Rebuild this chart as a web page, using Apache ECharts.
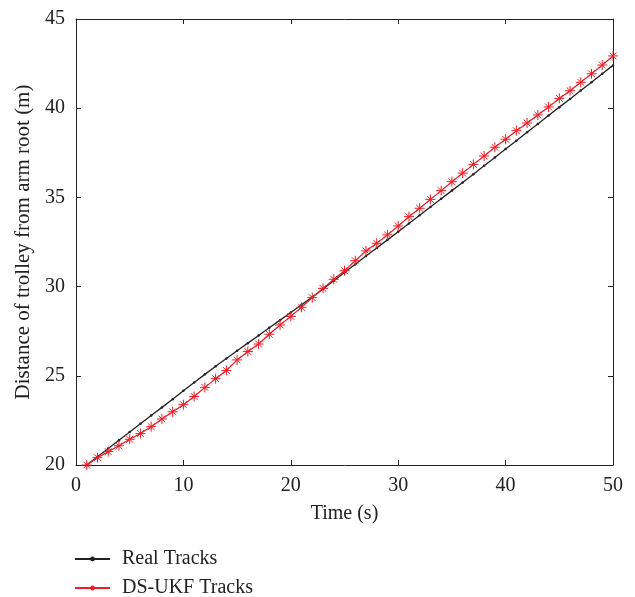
<!DOCTYPE html>
<html>
<head>
<meta charset="utf-8">
<script src="https://cdn.jsdelivr.net/npm/echarts@6/dist/echarts.min.js"></script>
<style>
  html, body { margin: 0; padding: 0; background: #fff; }
  #chart { width: 635px; height: 597px; }
</style>
</head>
<body>
<div id="chart"></div>
<script>
// Time steps (s)
const timeSteps = [1,2,3,4,5,6,7,8,9,10,11,12,13,14,15,16,17,18,19,20,21,22,23,24,25,
  26,27,28,29,30,31,32,33,34,35,36,37,38,39,40,41,42,43,44,45,46,47,48,49,50];

// Real trolley positions (m)
const realTracks = [20.00,20.46,20.92,21.39,21.85,22.31,22.77,23.23,23.69,24.16,
  24.62,25.08,25.54,25.97,26.40,26.83,27.26,27.69,28.12,28.55,
  28.98,29.41,29.87,30.33,30.79,31.25,31.71,32.16,32.62,33.08,
  33.54,34.00,34.46,34.92,35.38,35.84,36.30,36.77,37.24,37.71,
  38.18,38.65,39.12,39.59,40.06,40.52,40.99,41.46,41.93,42.40];

// DS-UKF estimated positions (m)
const ukfTracks = [20.00,20.41,20.75,21.08,21.44,21.76,22.15,22.58,22.98,23.38,
  23.84,24.35,24.84,25.30,25.89,26.36,26.78,27.33,27.85,28.33,
  28.84,29.38,29.90,30.41,30.89,31.45,32.00,32.43,32.90,33.40,
  33.92,34.39,34.89,35.38,35.88,36.36,36.85,37.32,37.81,38.26,
  38.74,39.17,39.62,40.07,40.55,40.98,41.45,41.93,42.42,42.93];

const seriesNames = ['Real Tracks', 'DS-UKF Tracks'];
const xTicks = { min: 0, max: 50, interval: 10 };
const yTicks = { min: 20, max: 45, interval: 5 };

const FONT = '"Liberation Serif", "DejaVu Serif", serif';
const INK = '#222';
const RED = '#ee1c25';
// eight-armed star marker drawn as stroked segments
const asterisk = 'path://M0,5L10,5M5,0L5,10M1.6,1.6L8.4,8.4M8.4,1.6L1.6,8.4';

const pair = (xs, ys) => xs.map((x, i) => [x, ys[i]]);

const axisBase = {
  type: 'value',
  axisLine: { show: true, onZero: false, lineStyle: { color: INK, width: 1 } },
  axisTick: { show: true, inside: true, length: 5, lineStyle: { color: INK, width: 1 } },
  splitLine: { show: false }
};

const legendBase = {
  orient: 'vertical',
  left: 74,
  padding: 0,
  itemWidth: 35, itemHeight: 6, itemGap: 10,
  textStyle: { fontFamily: FONT, fontSize: 20, color: INK, padding: [0, 0, 0, 7] }
};

const chart = echarts.init(document.getElementById('chart'), null, { renderer: 'canvas' });
chart.setOption({
  animation: false,
  backgroundColor: '#fff',
  grid: { left: 76, right: 22, top: 19, bottom: 132, containLabel: false },
  textStyle: { fontFamily: FONT },
  xAxis: [
    Object.assign({}, axisBase, {
      position: 'bottom', min: xTicks.min, max: xTicks.max, interval: xTicks.interval,
      name: 'Time (s)', nameLocation: 'middle', nameGap: 39,
      nameTextStyle: { fontFamily: FONT, fontSize: 20, color: INK },
      axisLabel: { fontFamily: FONT, fontSize: 20, color: INK, margin: 11 }
    }),
    Object.assign({}, axisBase, {
      position: 'top', min: xTicks.min, max: xTicks.max, interval: xTicks.interval,
      axisLabel: { show: false }
    })
  ],
  yAxis: [
    Object.assign({}, axisBase, {
      position: 'left', min: yTicks.min, max: yTicks.max, interval: yTicks.interval,
      name: 'Distance of trolley from arm root (m)', nameLocation: 'middle', nameGap: 42,
      nameTextStyle: { fontFamily: FONT, fontSize: 21, color: INK },
      axisLabel: { fontFamily: FONT, fontSize: 20, color: INK, margin: 11 }
    }),
    Object.assign({}, axisBase, {
      position: 'right', min: yTicks.min, max: yTicks.max, interval: yTicks.interval,
      axisLabel: { show: false }
    })
  ],
  legend: [
    Object.assign({}, legendBase, { top: 549, data: [seriesNames[0]] }),
    Object.assign({}, legendBase, { top: 578, data: [seriesNames[1]] })
  ],
  series: [
    {
      name: seriesNames[0], type: 'line', data: pair(timeSteps, realTracks),
      symbol: 'circle', symbolSize: 2.5, showSymbol: true,
      lineStyle: { color: INK, width: 1.3 },
      itemStyle: { color: INK },
      z: 2
    },
    {
      name: seriesNames[1], type: 'line', data: pair(timeSteps, ukfTracks),
      symbol: asterisk, symbolSize: 10, showSymbol: true,
      lineStyle: { color: RED, width: 1.2 },
      itemStyle: { color: 'rgba(0,0,0,0)', borderColor: RED, borderWidth: 1 },
      z: 3
    }
  ]
});
</script>
</body>
</html>
